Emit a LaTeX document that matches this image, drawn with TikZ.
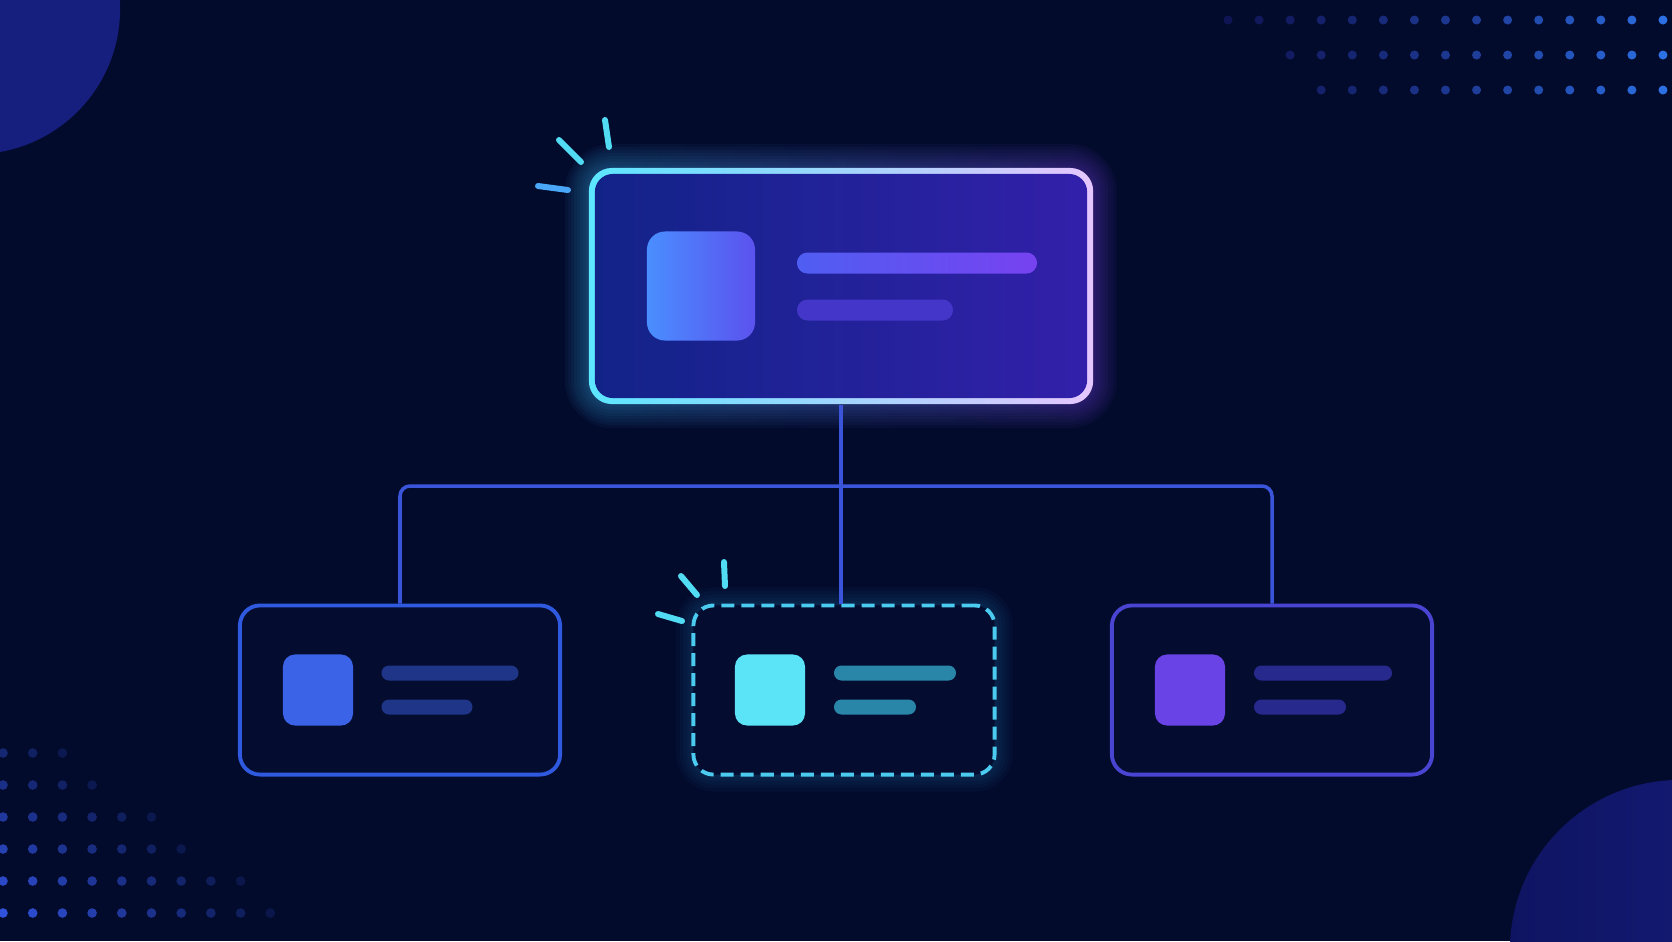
\documentclass[tikz,border=0pt]{standalone}
\usepackage{tikz}
\usetikzlibrary{calc}

\definecolor{bg}{HTML}{030B2D}
\definecolor{blob}{HTML}{161E7E}
\definecolor{blobdark}{HTML}{0F1462}
\definecolor{cardbg}{HTML}{040C30}
\definecolor{linkblue}{HTML}{3A55DA}
\definecolor{leftblue}{HTML}{2F5AE0}
\definecolor{rightviolet}{HTML}{4A44D2}
\definecolor{midcyan}{HTML}{4BCBEF}
\definecolor{sparkcyan}{HTML}{52DCF4}
\definecolor{sparkblue}{HTML}{4AA6F6}
\definecolor{glowcyan}{HTML}{3FC8FF}
\definecolor{glowviolet}{HTML}{8A4BFF}
\definecolor{rimL}{HTML}{5CE6FF}
\definecolor{rimM}{HTML}{B4C0FF}
\definecolor{rimR}{HTML}{E6C6FF}
\definecolor{innerL}{HTML}{122388}
\definecolor{innerM}{HTML}{0E1666}
\definecolor{innerR}{HTML}{3220AA}
\definecolor{iconL}{HTML}{4A8EFF}
\definecolor{iconR}{HTML}{5B52EE}
\definecolor{barL}{HTML}{4F5EF2}
\definecolor{barR}{HTML}{7742F0}
\definecolor{barB}{HTML}{4336C8}
\definecolor{lefticonc}{HTML}{3A63E8}
\definecolor{leftbarc}{HTML}{1F3588}
\definecolor{midiconc}{HTML}{5BE4F8}
\definecolor{midbarc}{HTML}{2A86A8}
\definecolor{righticonc}{HTML}{6943E6}
\definecolor{rightbarc}{HTML}{27298C}
\definecolor{dotL}{HTML}{23258F}
\definecolor{dotR}{HTML}{2C70E4}
\definecolor{dotBL}{HTML}{3152DC}

\begin{document}
\begin{tikzpicture}[x=0.01cm, y=-0.01cm,
  card/.style={draw, line width=1.1pt, rounded corners=0.2cm, minimum width=3.2cm, minimum height=1.69cm, fill=cardbg, inner sep=0pt},
  icon/.style={rounded corners=0.12cm, minimum width=0.7cm, minimum height=0.71cm, inner sep=0pt},
  bar/.style={rounded corners=0.075cm, minimum height=0.15cm, inner sep=0pt},
  link/.style={draw=linkblue, line width=1pt, rounded corners=0.1cm},
  spark/.style={line width=1.7pt, line cap=round}]

\useasboundingbox (0,0) rectangle (1672,941);
\fill[bg] (0,0) rectangle (1672,941);
\clip (0,0) rectangle (1672,941);

\fill[blob] (-25,9) circle (1.45cm);
\shade[left color=blobdark, right color=blob] (1680,950) circle (1.7cm);

\foreach \r/\y/\s in {0/20/0, 1/55/2, 2/90/3}
  \foreach \i in {\s,...,14} {
    \pgfmathsetmacro\p{100*\i/14}
    \pgfmathsetmacro\o{0.4+0.6*\i/14}
    \fill[dotR!\p!dotL, opacity=\o] (1228+31.07*\i,\y) circle (0.045cm);
  }

\foreach \j/\n in {0/3,1/4,2/6,3/7,4/9,5/10}
  \foreach \i in {1,...,\n} {
    \pgfmathsetmacro\o{(0.4+0.12*\j)*(1-(\i-1)/(\n+1))}
    \fill[dotBL, opacity=\o] (3+29.7*\i-29.7,753+32*\j) circle (0.048cm);
  }

\foreach \g in {1,...,8}
  \shade[left color=glowcyan, right color=glowviolet, fill opacity=0.045,
         rounded corners=0.23cm+0.03cm*\g]
    ($(589,168)+(-3*\g,-3*\g)$) rectangle ($(1093,404)+(3*\g,3*\g)$);

\node[rounded corners=0.23cm, minimum width=5.04cm, minimum height=2.36cm, inner sep=0pt,
      left color=rimL, middle color=rimM, right color=rimR] (top) at (841,286) {};
\node[rounded corners=0.18cm, minimum width=4.92cm, minimum height=2.24cm, inner sep=0pt,
      left color=innerL, middle color=innerM, right color=innerR] (topin) at (top) {};

\node[rounded corners=0.18cm, minimum width=1.08cm, minimum height=1.09cm, inner sep=0pt,
      left color=iconL, right color=iconR] (topicon) at (701,286) {};
\node[rounded corners=0.105cm, minimum width=2.40cm, minimum height=0.21cm, inner sep=0pt,
      left color=barL, right color=barR] (topbarA) at (917,263) {};
\node[rounded corners=0.105cm, minimum width=1.56cm, minimum height=0.21cm, inner sep=0pt,
      fill=barB] (topbarB) at (875,310) {};

\draw[spark, sparkcyan] (605,120) -- (609,147);
\draw[spark, sparkcyan] (559,140) -- (581,162);
\draw[spark, sparkblue] (538,186) -- (568,190);

\foreach \g in {1,...,5}
  \draw[glowcyan, line width=\g*2pt, opacity=0.03, rounded corners=0.2cm] (694,605) rectangle (995,774);

\node[card, draw=leftblue] (left) at (400,690) {};
\node[card, draw=midcyan, dash pattern=on 0.13cm off 0.07cm, minimum width=3.01cm] (mid) at (844,690) {};
\node[card, draw=rightviolet] (right) at (1272,690) {};

\node[icon, fill=lefticonc] (lefticon) at (318,690) {};
\node[bar, minimum width=1.37cm, fill=leftbarc] (leftbarA) at (450,673) {};
\node[bar, minimum width=0.91cm, fill=leftbarc] (leftbarB) at (427,707) {};

\node[icon, fill=midiconc] (midicon) at (770,690) {};
\node[bar, minimum width=1.22cm, fill=midbarc] (midbarA) at (895,673) {};
\node[bar, minimum width=0.82cm, fill=midbarc] (midbarB) at (875,707) {};

\node[icon, fill=righticonc] (righticon) at (1190,690) {};
\node[bar, minimum width=1.38cm, fill=rightbarc] (rightbarA) at (1323,673) {};
\node[bar, minimum width=0.92cm, fill=rightbarc] (rightbarB) at (1300,707) {};

\draw[spark, sparkcyan] (724,562) -- (725,586);
\draw[spark, sparkcyan] (681,576) -- (697,595);
\draw[spark, sparkcyan] (658,614) -- (682,621);

\coordinate (bus) at (841,486);
\draw[link] (top.south) -- (top.south |- mid.north);
\draw[link] (left.north) |- (bus) -| (right.north);

\end{tikzpicture}
\end{document}
